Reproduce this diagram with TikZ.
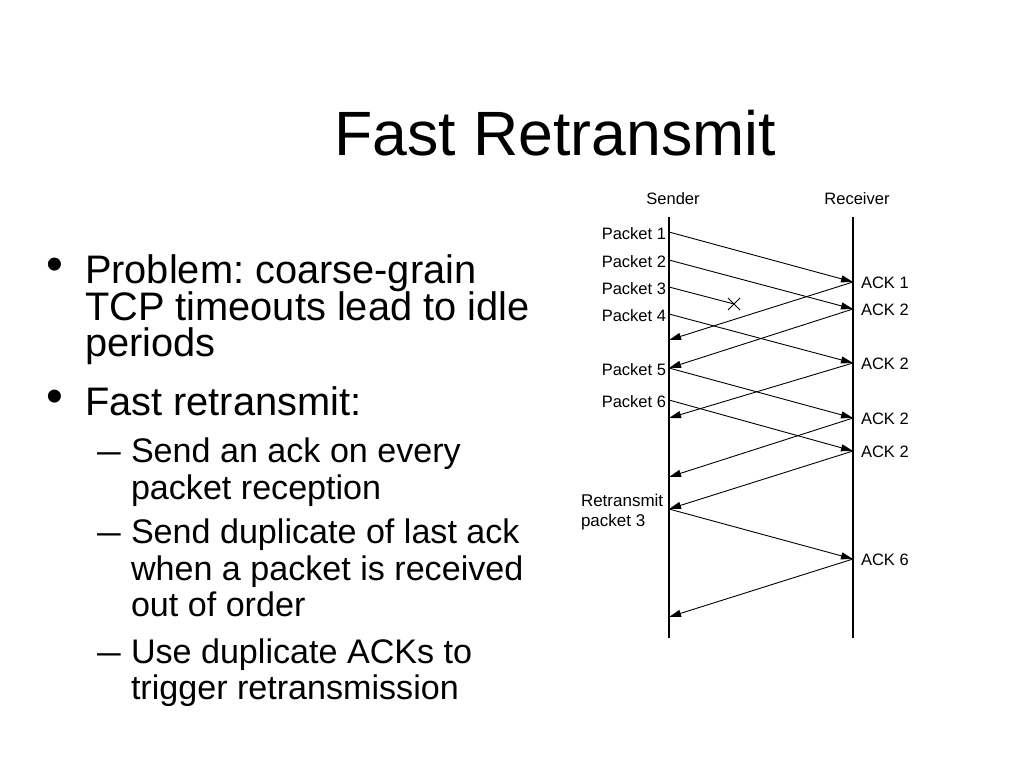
\documentclass[tikz,border=0pt]{standalone}
\usepackage{fontspec}
\setmainfont{Liberation Sans}
\usetikzlibrary{arrows.meta}
\frenchspacing

\begin{document}
\begin{tikzpicture}[x=1pt, y=-1pt,
  every node/.style={inner sep=0pt, outer sep=0pt},
  titletext/.style={anchor=base, font=\fontsize{62.6}{70}\selectfont},
  maintext/.style={anchor=base west, font=\fontsize{39.8}{44}\selectfont},
  subtext/.style={anchor=base west, font=\fontsize{34.1}{40}\selectfont},
  small/.style={font=\fontsize{16.5}{20}\selectfont},
  lifeline/.style={line width=1.2pt},
  msg/.style={line width=0.9pt, -{Triangle[length=12pt, width=7pt]}},
  pktlabel/.style={small, anchor=east, xshift=-3pt, yshift=-1.5pt},
  acklabel/.style={small, anchor=west, xshift=8pt, yshift=-1pt}]
\path[fill=white] (0,0) rectangle (1024,768);

\node[titletext] (title) at (555,155) {Fast Retransmit};

\node[maintext, yshift=3pt, font=\fontsize{48}{50}\selectfont] (dot1) at (46,283) {\textbullet};
\node[maintext] (prob1) at (85,283) {Problem: coarse-grain};
\node[maintext] (prob2) at (85,320) {TCP timeouts lead to idle};
\node[maintext] (prob3) at (85,356) {periods};
\node[maintext, yshift=3pt, font=\fontsize{48}{50}\selectfont] (dot2) at (46,415) {\textbullet};
\node[maintext] (fast) at (85,415) {Fast retransmit:};

\node[subtext, xscale=1.25] (dash1) at (97,462) {--};
\node[subtext] (every1) at (131,462) {Send an ack on every};
\node[subtext] (every2) at (131,499) {packet reception};
\node[subtext, xscale=1.25] (dash2) at (97,543) {--};
\node[subtext] (dup1) at (131,543) {Send duplicate of last ack};
\node[subtext] (dup2) at (131,580) {when a packet is received};
\node[subtext] (dup3) at (131,616) {out of order};
\node[subtext, xscale=1.25] (dash3) at (97,663) {--};
\node[subtext] (trig1) at (131,663) {Use duplicate ACKs to};
\node[subtext] (trig2) at (131,699) {trigger retransmission};

\coordinate (stop) at (669,217);
\coordinate (sbot) at (669,638);
\coordinate (rtop) at (853,217);
\coordinate (rbot) at (853,638);
\node[small, anchor=base] (sender) at (673,204) {Sender};
\node[small, anchor=base] (receiver) at (857,204) {Receiver};
\draw[lifeline] (stop) -- (sbot);
\draw[lifeline] (rtop) -- (rbot);

\coordinate (s1) at (669,232);
\coordinate (s2) at (669,260);
\coordinate (s3) at (669,287);
\coordinate (s4) at (669,314);
\coordinate (s5) at (669,368);
\coordinate (s6) at (669,400);
\coordinate (s7) at (669,509);
\coordinate (a1) at (669,340);
\coordinate (a3) at (669,418);
\coordinate (a4) at (669,477);
\coordinate (a6) at (669,617);
\coordinate (r1) at (853,282);
\coordinate (r2) at (853,309);
\coordinate (r3) at (853,363);
\coordinate (r4) at (853,418);
\coordinate (r5) at (853,451);
\coordinate (r6) at (853,559);
\coordinate (lost) at (734,304);

\node[pktlabel] (p1) at (s1) {Packet 1};
\node[pktlabel] (p2) at (s2) {Packet 2};
\node[pktlabel] (p3) at (s3) {Packet 3};
\node[pktlabel] (p4) at (s4) {Packet 4};
\node[pktlabel] (p5) at (s5) {Packet 5};
\node[pktlabel] (p6) at (s6) {Packet 6};
\node[small, align=left, anchor=west, font=\fontsize{17}{20}\selectfont] (retx) at (581,512) {Retransmit\\packet 3};
\node[acklabel] (k1) at (r1) {ACK 1};
\node[acklabel] (k2) at (r2) {ACK 2};
\node[acklabel] (k3) at (r3) {ACK 2};
\node[acklabel] (k4) at (r4) {ACK 2};
\node[acklabel] (k5) at (r5) {ACK 2};
\node[acklabel] (k6) at (r6) {ACK 6};

\draw[msg] (s1) -- (r1);
\draw[msg] (s2) -- (r2);
\draw[line width=0.9pt] (s3) -- (lost);
\draw[line width=1pt] ([shift={(-6,-6)}]lost) -- ([shift={(6,6)}]lost);
\draw[line width=1pt] ([shift={(-6,6)}]lost) -- ([shift={(6,-6)}]lost);
\draw[msg] (s4) -- (r3);
\draw[msg] (r1) -- (a1);
\draw[msg] (r2) -- (s5);
\draw[msg] (s5) -- (r4);
\draw[msg] (r3) -- (a3);
\draw[msg] (s6) -- (r5);
\draw[msg] (r4) -- (a4);
\draw[msg] (r5) -- (s7);
\draw[msg] (s7) -- (r6);
\draw[msg] (r6) -- (a6);
\end{tikzpicture}
\end{document}
